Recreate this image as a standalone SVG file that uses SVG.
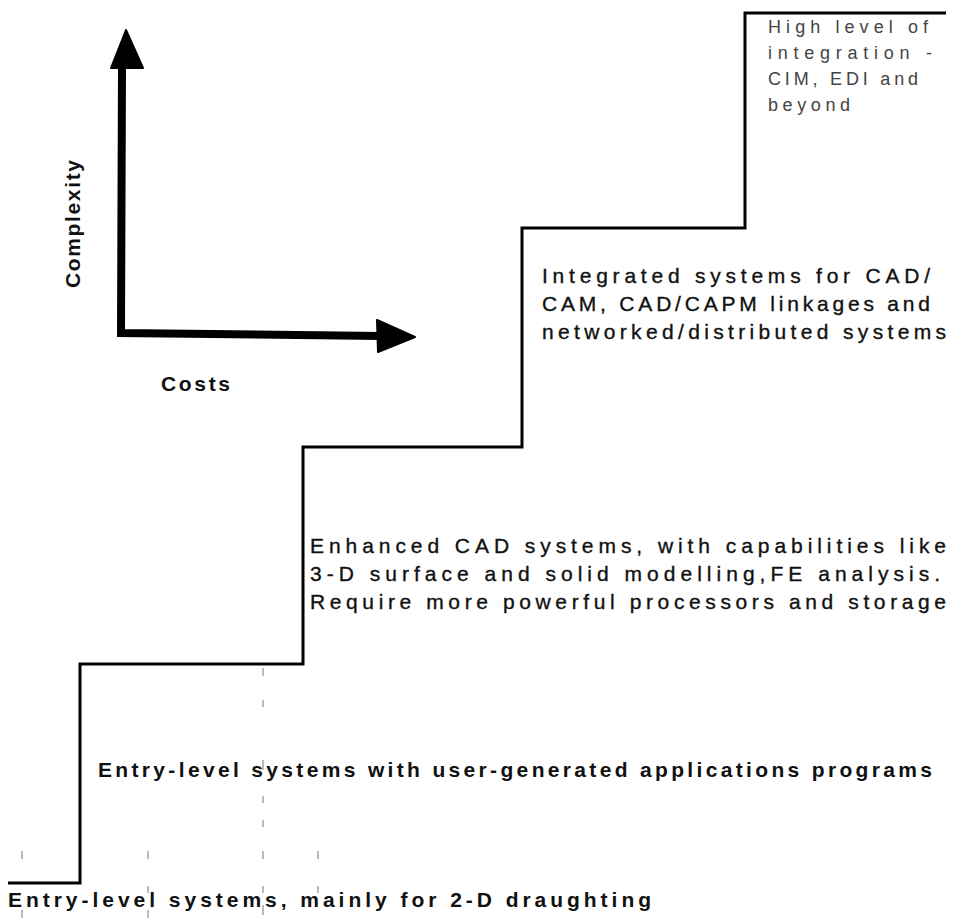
<svg xmlns="http://www.w3.org/2000/svg" width="953" height="918" viewBox="0 0 953 918">
  <style>
    .t { font-family: "Liberation Sans", Arial, Helvetica, sans-serif; fill: #111; stroke: #111; stroke-width: 0.35; }
    .body { font-size: 21px; }
    .bold { font-weight: bold; stroke-width: 0; }
    .light { font-size: 18px; fill: #444; stroke: none; }
    .stair { fill: none; stroke: #000; stroke-width: 3; stroke-linejoin: miter; }
    .axis { fill: none; stroke: #000; stroke-width: 8; stroke-linecap: square; }
    .tick { stroke: #777; stroke-width: 1; }
  </style>

  <rect width="953" height="918" fill="#fff"/>

  <!-- axes: complexity vs costs -->
  <g id="axes">
    <path class="axis" d="M122 70 L121 333 L378 336"/>
    <polygon points="126,30 111,68 143,68" fill="#000" stroke="#000" stroke-width="2" stroke-linejoin="round"/>
    <polygon points="377,320 415,337 378,352" fill="#000" stroke="#000" stroke-width="2" stroke-linejoin="round"/>
    <text class="t bold" font-size="21" transform="translate(80 288) rotate(-90)" textLength="128" lengthAdjust="spacing">Complexity</text>
    <text class="t bold" x="161" y="391" font-size="21" textLength="69" lengthAdjust="spacing">Costs</text>
  </g>

  <!-- staircase outline -->
  <g id="connectors">
    <path class="stair" d="M8 883 H80 V664 H303 V447 H522 V228 H745 V13 H946"/>
  </g>

  <!-- faint scan ticks -->
  <g id="ticks">
    <line class="tick" x1="22" y1="851" x2="22" y2="859"/>
    <line class="tick" x1="22" y1="910" x2="22" y2="918"/>
    <line class="tick" x1="148" y1="851" x2="148" y2="859"/>
    <line class="tick" x1="148" y1="886" x2="148" y2="893"/>
    <line class="tick" x1="148" y1="910" x2="148" y2="918"/>
    <line class="tick" x1="263" y1="668" x2="263" y2="676"/>
    <line class="tick" x1="263" y1="700" x2="263" y2="707"/>
    <line class="tick" x1="263" y1="760" x2="263" y2="770"/>
    <line class="tick" x1="263" y1="796" x2="263" y2="803"/>
    <line class="tick" x1="263" y1="820" x2="263" y2="827"/>
    <line class="tick" x1="263" y1="851" x2="263" y2="859"/>
    <line class="tick" x1="263" y1="886" x2="263" y2="893"/>
    <line class="tick" x1="263" y1="905" x2="263" y2="915"/>
    <line class="tick" x1="318" y1="851" x2="318" y2="859"/>
    <line class="tick" x1="318" y1="886" x2="318" y2="893"/>
  </g>

  <g id="step1">
    <text class="t body bold" x="8" y="907" font-size="20" textLength="643" lengthAdjust="spacing">Entry-level systems, mainly for 2-D draughting</text>
  </g>

  <g id="step2">
    <text class="t body bold" x="98" y="777" font-size="20" textLength="834" lengthAdjust="spacing">Entry-level systems with user-generated applications programs</text>
  </g>

  <g id="step3">
    <text class="t body" x="310" y="553" textLength="636" lengthAdjust="spacing">Enhanced CAD systems, with capabilities like</text>
    <text class="t body" x="310" y="581" textLength="630" lengthAdjust="spacing">3-D surface and solid modelling,FE analysis.</text>
    <text class="t body" x="310" y="609" textLength="636" lengthAdjust="spacing">Require more powerful processors and storage</text>
  </g>

  <g id="step4">
    <text class="t body" x="542" y="283" textLength="388" lengthAdjust="spacing">Integrated systems for CAD/</text>
    <text class="t body" x="542" y="311" textLength="388" lengthAdjust="spacing">CAM, CAD/CAPM linkages and</text>
    <text class="t body" x="542" y="339" textLength="404" lengthAdjust="spacing">networked/distributed  systems</text>
  </g>

  <g id="step5">
    <text class="t light" x="768" y="33" textLength="160" lengthAdjust="spacing">High level of</text>
    <text class="t light" x="768" y="59" textLength="164" lengthAdjust="spacing">integration  -</text>
    <text class="t light" x="768" y="85" textLength="150" lengthAdjust="spacing">CIM, EDI and</text>
    <text class="t light" x="768" y="111" textLength="82" lengthAdjust="spacing">beyond</text>
  </g>
</svg>
